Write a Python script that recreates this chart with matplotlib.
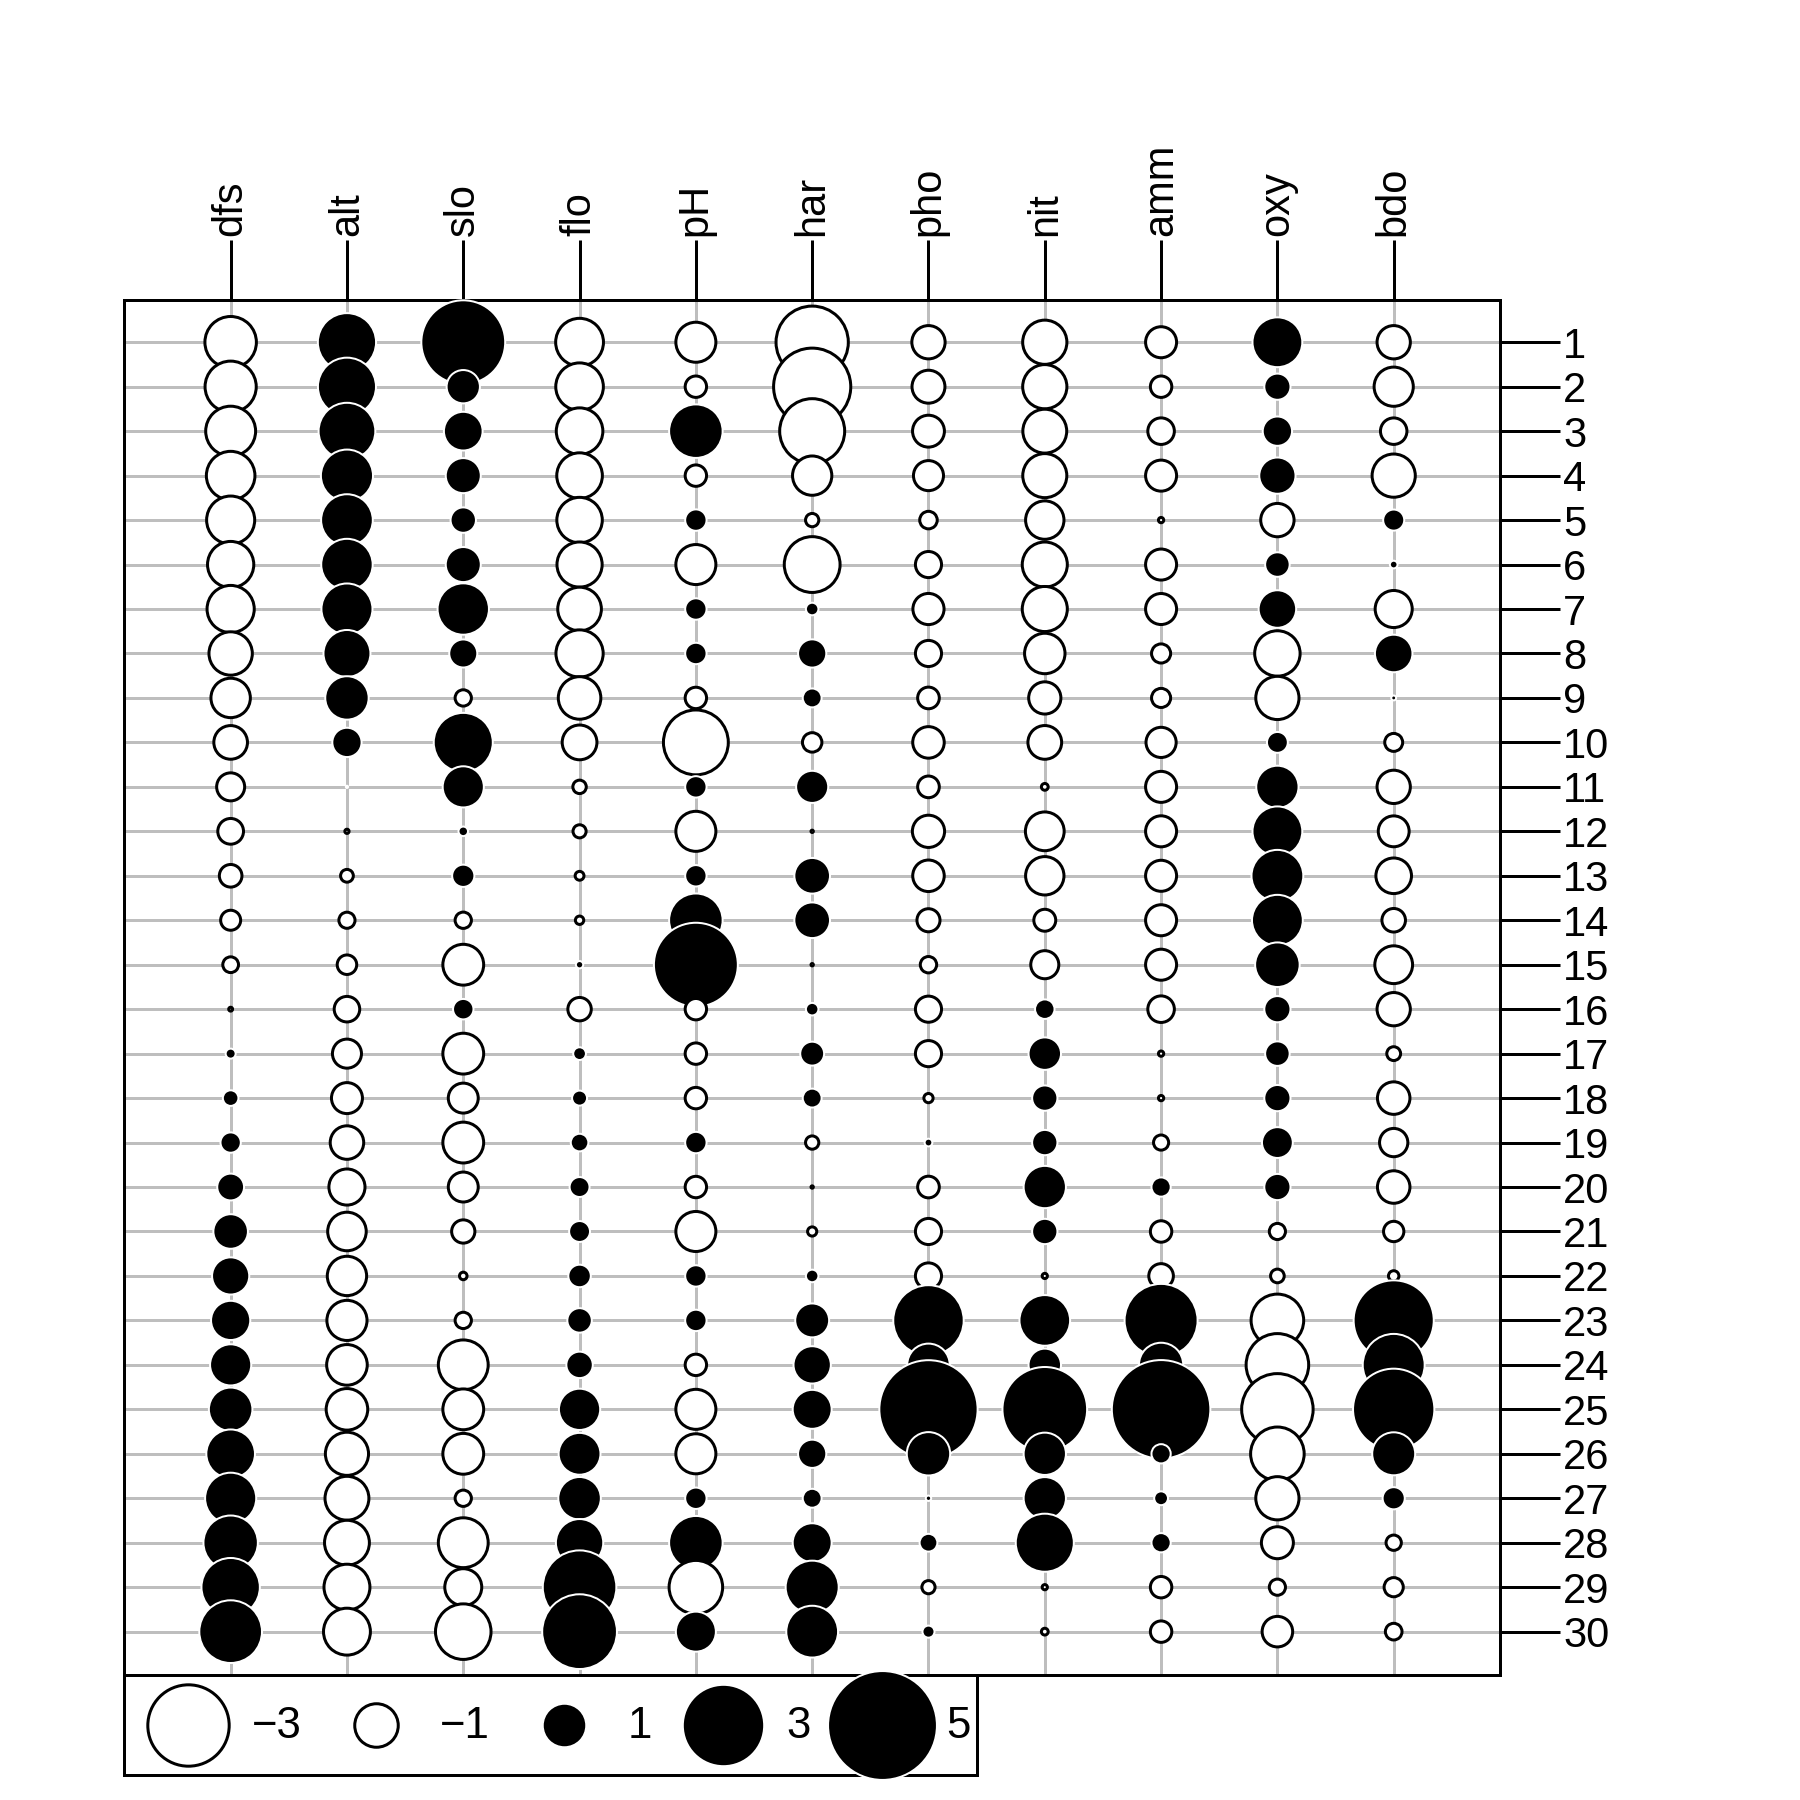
import numpy as np
import matplotlib
matplotlib.use('Agg')
import matplotlib.pyplot as plt

plt.rcParams['font.family'] = ['Liberation Sans', 'DejaVu Sans']

# environmental variables, 30 sites along the river
variables = ['dfs', 'alt', 'slo', 'flo', 'pH', 'har', 'pho', 'nit', 'amm', 'oxy', 'bdo']
sites = [str(i) for i in range(1, 31)]

dfs = [3, 22, 102, 185, 215, 324, 268, 491, 705, 990, 1234, 1324, 1436, 1522, 1645,
       1859, 1985, 2110, 2246, 2477, 2812, 2940, 3043, 3147, 3278, 3579, 3732, 3947, 4220, 4530]
alt = [934, 932, 914, 854, 849, 846, 841, 792, 752, 617, 483, 477, 450, 434, 415,
       375, 348, 332, 310, 286, 262, 254, 246, 241, 231, 214, 206, 195, 183, 172]
slo = [6.176, 3.434, 3.638, 3.497, 3.178, 3.497, 4.205, 3.258, 2.565, 4.605, 3.738, 2.833, 3.091, 2.565, 1.792,
       3.045, 1.792, 2.197, 1.792, 2.197, 2.398, 2.708, 2.565, 1.386, 1.792, 1.792, 2.565, 1.386, 1.946, 1.099]
flo = [84, 100, 180, 253, 264, 286, 400, 130, 480, 1000, 1990, 2000, 2110, 2120, 2300,
       1610, 2430, 2500, 2590, 2680, 2720, 2790, 2880, 2976, 3870, 3910, 3960, 4320, 6770, 6900]
pH = [79, 80, 83, 80, 81, 79, 81, 81, 80, 77, 81, 79, 81, 83, 86,
      80, 80, 80, 81, 80, 79, 81, 81, 80, 79, 79, 81, 83, 78, 82]
har = [45, 40, 52, 72, 84, 60, 88, 94, 90, 82, 96, 86, 98, 98, 86,
       88, 92, 90, 84, 86, 85, 88, 97, 99, 100, 94, 90, 100, 110, 109]
pho = [1, 2, 5, 10, 38, 20, 7, 20, 30, 6, 30, 4, 6, 27, 40,
       20, 20, 50, 60, 30, 20, 20, 260, 140, 422, 143, 58, 74, 45, 65]
nit = [20, 20, 22, 21, 52, 15, 15, 41, 82, 75, 160, 50, 52, 123, 100,
       200, 250, 220, 220, 300, 220, 162, 350, 250, 620, 300, 300, 400, 162, 160]
amm = [0, 10, 5, 0, 20, 0, 0, 12, 12, 1, 0, 0, 0, 0, 0,
       5, 20, 20, 15, 30, 10, 7, 115, 60, 180, 30, 26, 30, 10, 10]
oxy = [122, 103, 105, 110, 80, 102, 111, 70, 72, 100, 115, 122, 124, 123, 117,
       103, 102, 103, 106, 103, 90, 91, 63, 52, 41, 62, 72, 81, 90, 82]
bdo = [27, 19, 35, 13, 62, 53, 22, 81, 52, 43, 27, 30, 24, 38, 21,
       27, 46, 28, 33, 28, 41, 48, 164, 123, 167, 89, 63, 45, 42, 44]

legend_values = [-3, -1, 1, 3, 5]

# standardise each column (table of centred/scaled values)
raw = np.column_stack([dfs, alt, slo, flo, pH, har, pho, nit, amm, oxy, bdo]).astype(float)
z = (raw - raw.mean(axis=0)) / raw.std(axis=0, ddof=1)

DPI = 100
PX = 72 / DPI  # points per pixel


def diam_pt(v):
    # symbol diameter grows as |z|^0.57
    return 43.5 * np.abs(np.asarray(v, dtype=float)) ** 0.57 * PX


def styles(v):
    v = np.asarray(v)
    neg = v < 0
    fc = ['white' if n else 'black' for n in neg]
    ec = ['black' if n else 'white' for n in neg]
    lw = [3 * PX if n else 2 * PX for n in neg]
    return fc, ec, lw


fig = plt.figure(figsize=(18, 18), dpi=DPI, facecolor='white')

ax = fig.add_axes([124 / 1800, 125 / 1800, 1376 / 1800, 1375 / 1800])
nrow, ncol = z.shape
xs, ys = np.meshgrid(np.arange(1, ncol + 1), np.arange(1, nrow + 1))
vals = z.ravel()
fc, ec, lw = styles(vals)
ax.scatter(xs.ravel(), ys.ravel(), s=diam_pt(vals) ** 2, facecolors=fc,
           edgecolors=ec, linewidths=lw, zorder=3, clip_on=False)

ax.set_xlim(0.083, 11.914)
ax.set_ylim(30.975, 0.05)

ax.set_xticks(range(1, ncol + 1))
ax.set_xticklabels(variables)
ax.xaxis.tick_top()
ax.tick_params(axis='x', top=True, bottom=False, labeltop=True, labelbottom=False,
               length=60 * PX, width=3 * PX, pad=4 * PX, labelsize=30,
               labelrotation=90, direction='out')
ax.set_yticks(range(1, nrow + 1))
ax.set_yticklabels(sites)
ax.yaxis.tick_right()
ax.tick_params(axis='y', right=True, left=False, labelright=True, labelleft=False,
               length=60 * PX, width=3 * PX, pad=3 * PX, labelsize=30, direction='out')
ax.grid(True, color='#bebebe', lw=3 * PX)
ax.set_axisbelow(True)
for sp in ax.spines.values():
    sp.set_linewidth(3 * PX)

# legend box under the table
lax = fig.add_axes([124 / 1800, 25 / 1800, 853 / 1800, 100 / 1800])
lax.set_zorder(5)
lax.patch.set_alpha(0)
lax.set_xlim(0, 853)
lax.set_ylim(100, 0)
lax.set_xticks([])
lax.set_yticks([])
for sp in lax.spines.values():
    sp.set_linewidth(3 * PX)

cx = 64.3
for v in legend_values:
    lab = str(v).replace('-', '\u2212')
    f, e, w = styles([v])
    lax.scatter([cx], [50], s=diam_pt(v) ** 2, facecolors=f, edgecolors=e,
                linewidths=w, zorder=3, clip_on=False)
    lax.text(cx + 63.5, 63.5, lab, fontsize=31.5, ha='left', va='baseline')
    cx += 159 + (29 if v < 0 else 0)

fig.savefig('out.png', dpi=DPI)
